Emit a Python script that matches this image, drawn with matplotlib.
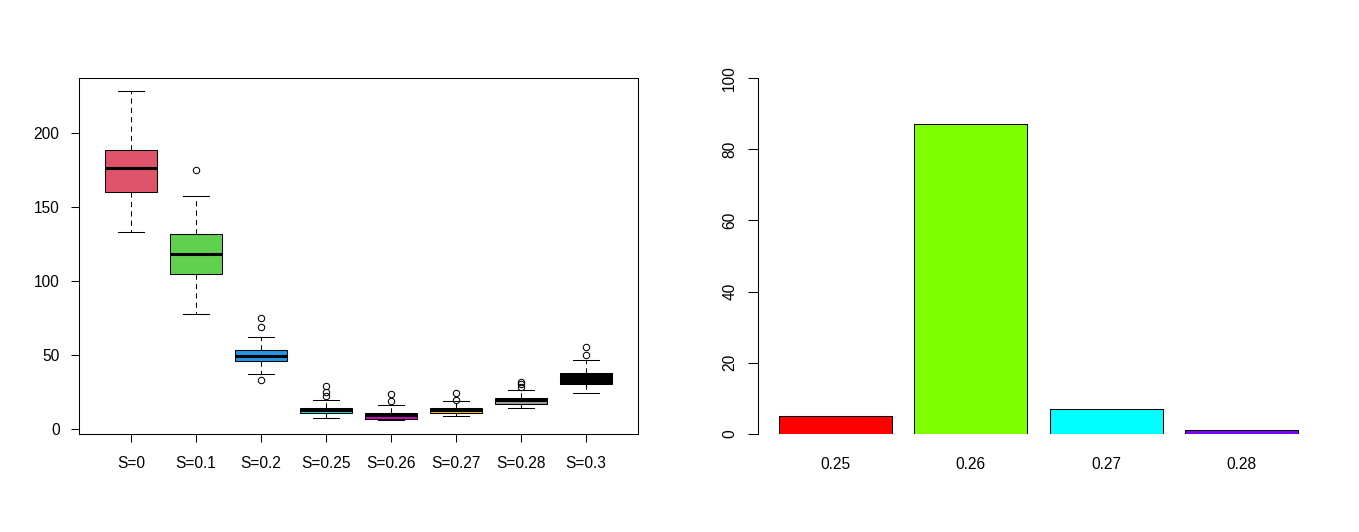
"""Boxplots of the S groups (left) and bar chart of the selected S share (right)."""
import matplotlib
matplotlib.use("Agg")
import matplotlib.pyplot as plt

plt.rcParams['font.family'] = ['Liberation Sans', 'DejaVu Sans']
plt.rcParams['font.size'] = 11.2

# ---- left panel: box statistics ----
groups = ['S=0', 'S=0.1', 'S=0.2', 'S=0.25', 'S=0.26', 'S=0.27', 'S=0.28', 'S=0.3']
med = [176.1, 118.0, 49.1, 12.6, 9.4, 12.7, 19.8, 34.0]
q1 = [159.9, 104.5, 45.7, 10.6, 7.0, 10.6, 16.7, 30.6]
q3 = [188.3, 131.5, 53.2, 14.0, 10.8, 14.2, 20.7, 37.8]
whislo = [132.9, 77.5, 37.0, 7.2, 6.1, 8.6, 14.0, 24.1]
whishi = [228.2, 157.2, 62.0, 19.4, 15.9, 18.7, 26.1, 46.8]
fliers = [[], [174.8], [74.8, 68.7, 32.9], [28.9, 24.8, 22.5], [23.6, 18.7],
          [24.1, 19.4], [32.0, 30.6, 28.6], [55.4, 49.8]]
box_colors = ['#DF536B', '#61D04F', '#2297E6', '#28E2E5', '#CD0BBC',
              '#F5C710', '#9E9E9E', 'black']

# ---- right panel ----
bar_labels = ['0.25', '0.26', '0.27', '0.28']
bar_values = [5, 87, 7, 1]
bar_colors = ['#FF0000', '#80FF00', '#00FFFF', '#8000FF']

W, H = 1359, 532
fig = plt.figure(figsize=(W / 100, H / 100), dpi=100)
axL = fig.add_axes([79 / W, 1 - 434 / H, 559 / W, 356 / H])
axR = fig.add_axes([758 / W, 1 - 434 / H, 561 / W, 356 / H])

# =================== left: boxplots ===================
stats = []
for i in range(len(groups)):
    stats.append(dict(med=med[i], q1=q1[i], q3=q3[i], whislo=whislo[i],
                      whishi=whishi[i], fliers=fliers[i], label=groups[i]))
pos = list(range(1, len(groups) + 1))
bp = axL.bxp(stats, positions=pos, widths=0.8, patch_artist=True,
             boxprops=dict(edgecolor='black', lw=0.75),
             medianprops=dict(color='black', lw=2.2, solid_capstyle='butt'),
             whiskerprops=dict(color='black', lw=0.75, linestyle=(0, (5, 4))),
             capprops=dict(color='black', lw=0.75),
             flierprops=dict(marker='o', markerfacecolor='none', markeredgecolor='black',
                             markersize=4.6, markeredgewidth=0.75),
             capwidths=0.4)
for patch, c in zip(bp['boxes'], box_colors):
    patch.set_facecolor(c)

axL.set_xlim(0.2, 8.8)
axL.set_ylim(-3.4, 237.2)
axL.set_yticks([0, 50, 100, 150, 200])
axL.set_xticks(pos)
axL.set_xticklabels(groups)
for s in axL.spines.values():
    s.set_linewidth(0.75)
axL.tick_params(axis='both', length=6, width=0.75, color='black')
axL.tick_params(axis='x', pad=9.5)
axL.tick_params(axis='y', pad=8)

# =================== right: bar chart ===================
xb = [0.7 + 1.2 * i for i in range(len(bar_values))]
axR.bar(xb, bar_values, width=1.0, color=bar_colors, edgecolor='black', lw=0.75)
axR.set_xlim(0.016, 4.984)
axR.set_ylim(0, 100)
axR.set_yticks([0, 20, 40, 60, 80, 100])
axR.set_yticklabels(['0', '20', '40', '60', '80', '100'], rotation=90, va='center')
axR.set_xticks(xb)
axR.set_xticklabels(bar_labels)
for side in ['top', 'right', 'bottom']:
    axR.spines[side].set_visible(False)
axR.spines['left'].set_linewidth(0.75)
axR.tick_params(axis='y', length=7, width=0.75, pad=8)
axR.tick_params(axis='x', length=0, pad=16.5)

fig.savefig("out.png", dpi=100)
plt.close(fig)
